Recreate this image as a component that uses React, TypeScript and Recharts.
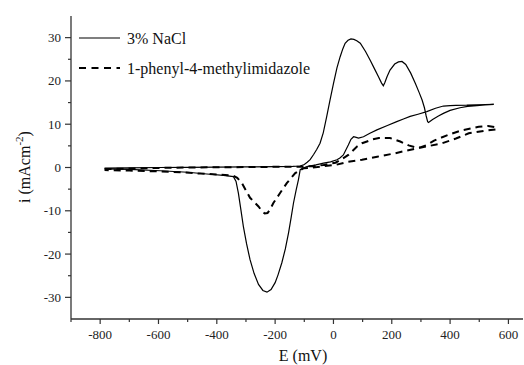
import React from 'react';
import { LineChart, Line, XAxis, YAxis, Legend, Label } from 'recharts';

// 3% NaCl: forward sweep then reverse sweep (E in mV, i in mA/cm2)
const naclE = [
  -785, -700, -600, -500, -400, -300, -200, -140, -114, -100, -90, -80, -68, -57, -46, -35, -23, -12, 0, 12, 23, 32,
  40, 50, 60, 70, 80, 92, 110, 126, 140, 154, 165, 171, 176, 184, 194, 210, 223, 235, 248, 265, 281, 294, 304, 312,
  318, 323, 326, 340, 360, 377, 400, 434, 460, 492, 520, 550,
  520, 490, 457, 420, 400, 377, 350, 320, 290, 263, 240, 217, 185, 149, 125, 103, 86, 75, 69, 60, 51, 42, 34, 22,
  12, -10, -34, -60, -91, -105, -114, -120, -128, -137, -145, -154, -165, -177, -190, -200, -214, -228, -242, -257,
  -272, -286, -298, -309, -318, -326, -334, -343, -377, -434, -500, -594, -700, -785,
];
const naclI = [
  -0.15, -0.1, 0.0, 0.05, 0.1, 0.15, 0.2, 0.25, 0.35, 0.7, 1.2, 1.8, 3.0, 4.2, 5.6, 8.0, 11.8, 15.5, 19.4, 23.0, 25.6,
  27.4, 28.7, 29.4, 29.7, 29.6, 29.3, 28.7, 26.8, 24.8, 22.9, 21.0, 19.5, 18.9, 19.6, 21.0, 22.5, 23.9, 24.4, 24.5,
  23.8, 21.8, 19.4, 17.3, 15.6, 13.8, 11.9, 10.6, 10.4, 11.1, 11.9, 12.5, 13.2, 13.8, 14.1, 14.3, 14.45, 14.6,
  14.55, 14.5, 14.4, 14.35, 14.3, 14.2, 13.7, 12.9, 12.3, 11.8, 11.2, 10.6, 9.7, 8.7, 7.9, 7.1, 6.8, 7.0, 7.1, 6.5,
  5.2, 4.0, 2.9, 2.2, 1.8, 1.3, 1.0, 0.6, 0.2, -0.2, -0.5, -2.8, -5.2, -8.2, -11.5, -15.1, -18.8, -22.0, -24.8,
  -26.6, -28.2, -28.8, -28.4, -27.0, -24.5, -21.3, -17.6, -13.6, -9.5, -5.9, -3.2, -2.1, -1.8, -1.5, -1.1, -0.75,
  -0.45, -0.3,
];

// 1-phenyl-4-methylimidazole
const imidE = [
  -785, -700, -600, -500, -400, -300, -200, -120, -73, -34, 7, 30, 51, 65, 80, 98, 115, 135, 156, 194, 229, 258, 280,
  300, 320, 345, 373, 400, 441, 470, 498, 530, 555,
  560, 520, 464, 420, 373, 330, 293, 250, 213, 150, 98, 50, 7, -34, -73, -103, -131, -160, -183, -206, -218, -226,
  -236, -246, -257, -286, -300, -314, -330, -343, -400, -457, -526, -600, -700, -785,
];
const imidI = [
  -0.35, -0.25, -0.1, 0.0, 0.05, 0.1, 0.15, 0.2, 0.3, 0.6, 1.1, 2.0, 2.9, 3.8, 4.8, 5.6, 6.0, 6.5, 6.8, 6.8, 6.0, 5.1,
  4.7, 4.7, 5.2, 6.2, 7.0, 7.7, 8.6, 9.0, 9.4, 9.6, 9.3,
  8.8, 8.5, 7.9, 6.7, 5.6, 5.0, 4.5, 3.9, 3.3, 2.5, 1.8, 1.3, 0.6, 0.3, -0.05, -0.2, -1.3, -3.6, -5.9, -8.2, -9.8,
  -10.5, -10.6, -10.0, -9.0, -7.0, -5.3, -3.6, -2.4, -1.9, -1.6, -1.4, -1.1, -0.9, -0.7, -0.6,
];

const seriesNames = ['3% NaCl', '1-phenyl-4-methylimidazole'];
const xTicks = [-900, -800, -700, -600, -500, -400, -300, -200, -100, 0, 100, 200, 300, 400, 500, 600];
const yTicks = [-30, -25, -20, -15, -10, -5, 0, 5, 10, 15, 20, 25, 30];

const toPoints = (e: number[], i: number[]) => e.map((v, k) => ({ E: v, I: i[k] }));
const naclData = toPoints(naclE, naclI);
const imidData = toPoints(imidE, imidI);

const FONT = '"Liberation Serif", "Times New Roman", Times, serif';
const AXIS = '#333';
const txt = { fontFamily: FONT };

const XTick = (props: any) => {
  const { x, y, payload } = props;
  const major = payload.value % 200 === 0;
  return (
    <g>
      <line x1={x} y1={y} x2={x} y2={y + (major ? 5 : 3)} stroke={AXIS} strokeWidth={1.2} />
      {major && (
        <text x={x} y={y + 20} textAnchor="middle" style={txt} fontSize={13} fill="#222">
          {payload.value}
        </text>
      )}
    </g>
  );
};

const YTick = (props: any) => {
  const { x, y, payload } = props;
  const major = payload.value % 10 === 0;
  return (
    <g>
      <line x1={x} y1={y} x2={x - (major ? 6 : 3)} y2={y} stroke={AXIS} strokeWidth={1.2} />
      {major && (
        <text x={x - 10} y={y + 4.5} textAnchor="end" style={txt} fontSize={13} fill="#222">
          {payload.value}
        </text>
      )}
    </g>
  );
};

const XTitle = (props: any) => {
  const vb = props.viewBox || {};
  return (
    <text x={vb.x + vb.width / 2 + 6} y={vb.y + 42} textAnchor="middle" style={txt} fontSize={16} fill="#111">
      E (mV)
    </text>
  );
};

const YTitle = () => (
  <text x={30} y={167} textAnchor="middle" transform="rotate(-90, 30, 167)" style={txt} fontSize={16} fill="#111">
    i (mAcm
    <tspan dy={-7} fontSize={11}>-2</tspan>
    <tspan dy={7}>)</tspan>
  </text>
);

const renderLegend = (props: any) => {
  const items = [...(props.payload || [])].sort(
    (a: any, b: any) => seriesNames.indexOf(a.value) - seriesNames.indexOf(b.value)
  );
  return (
    <svg width={260} height={62}>
      {items.map((it: any, k: number) => {
        const dashed = it.value !== seriesNames[0];
        return (
          <g key={k}>
            <line
              x1={3}
              y1={14 + k * 30}
              x2={44}
              y2={14 + k * 30}
              stroke="#000"
              strokeWidth={dashed ? 2 : 1.2}
              strokeDasharray={dashed ? '7 5.5' : undefined}
            />
            <text x={51} y={19.5 + k * 30} style={txt} fontSize={16} fill="#111">
              {it.value}
            </text>
          </g>
        );
      })}
    </svg>
  );
};

export default function App() {
  return (
    <div style={{ position: 'absolute', left: 0, top: 0, background: '#fff', fontFamily: FONT }}>
      <LineChart width={524} height={365} margin={{ top: 16, right: 1, bottom: 0, left: 0 }}>
        <XAxis
          dataKey="E"
          type="number"
          domain={[-900, 650]}
          ticks={xTicks}
          allowDataOverflow
          height={46}
          tickSize={0}
          tickMargin={0}
          tickLine={false}
          tick={<XTick />}
          axisLine={{ stroke: AXIS, strokeWidth: 1.3 }}
          interval={0}
        >
          <Label content={<XTitle />} />
        </XAxis>
        <XAxis
          xAxisId="top"
          orientation="top"
          type="number"
          domain={[-900, 650]}
          height={0}
          tick={false}
          tickLine={false}
          axisLine={{ stroke: AXIS, strokeWidth: 1.3 }}
        />
        <YAxis
          type="number"
          domain={[-35, 35]}
          ticks={yTicks}
          allowDataOverflow
          width={71}
          tickSize={0}
          tickMargin={0}
          tickLine={false}
          tick={<YTick />}
          axisLine={{ stroke: AXIS, strokeWidth: 1.3 }}
          interval={0}
        >
          <Label content={<YTitle />} />
        </YAxis>
        <Legend
          layout="vertical"
          align="center"
          verticalAlign="middle"
          content={renderLegend}
          wrapperStyle={{ left: 76, top: 24, width: 260, height: 62 }}
        />
        <Line
          data={naclData}
          dataKey="I"
          name={seriesNames[0]}
          type="linear"
          stroke="#000"
          strokeWidth={1.2}
          dot={false}
          activeDot={false}
          isAnimationActive={false}
        />
        <Line
          data={imidData}
          dataKey="I"
          name={seriesNames[1]}
          type="linear"
          stroke="#000"
          strokeWidth={2}
          strokeDasharray="7 5"
          dot={false}
          activeDot={false}
          isAnimationActive={false}
        />
      </LineChart>
    </div>
  );
}
